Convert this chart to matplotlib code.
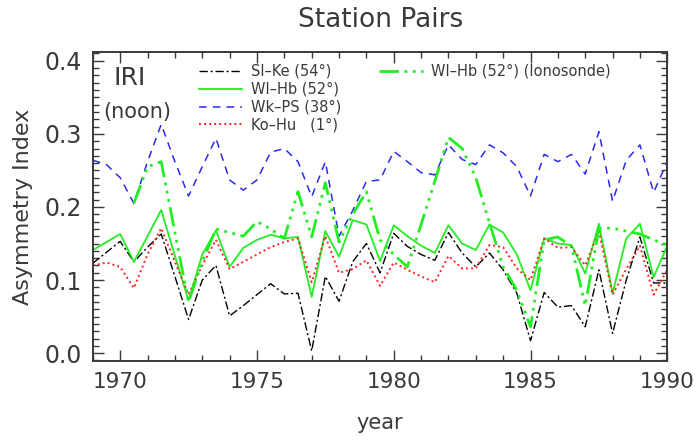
import numpy as np
import matplotlib
matplotlib.use("Agg")
import matplotlib.pyplot as plt
from matplotlib.ticker import MultipleLocator, FormatStrFormatter

# half-year samples 1969.0 ... 1990.0
years = np.arange(1969.0, 1990.01, 0.5)

sl_ke = [0.123, 0.138, 0.153, 0.125, 0.145, 0.163, 0.105, 0.046, 0.100, 0.120,
         0.051, 0.065, 0.080, 0.095, 0.081, 0.082, 0.003, 0.105, 0.071, 0.125,
         0.150, 0.110, 0.164, 0.146, 0.135, 0.127, 0.165, 0.137, 0.118, 0.137,
         0.114, 0.082, 0.017, 0.083, 0.063, 0.065, 0.036, 0.114, 0.027, 0.100,
         0.159, 0.096, 0.096]

wl_hb = [0.141, 0.152, 0.163, 0.125, 0.160, 0.196, 0.133, 0.072, 0.135, 0.168,
         0.118, 0.144, 0.155, 0.162, 0.157, 0.159, 0.077, 0.167, 0.132, 0.182,
         0.176, 0.126, 0.175, 0.160, 0.147, 0.137, 0.175, 0.150, 0.141, 0.176,
         0.165, 0.135, 0.086, 0.157, 0.150, 0.148, 0.109, 0.177, 0.082, 0.157,
         0.177, 0.104, 0.147]

wk_ps = [0.264, 0.258, 0.240, 0.205, 0.262, 0.313, 0.262, 0.215, 0.255, 0.294,
         0.237, 0.223, 0.237, 0.275, 0.280, 0.262, 0.214, 0.262, 0.160, 0.195,
         0.235, 0.237, 0.276, 0.262, 0.247, 0.244, 0.285, 0.265, 0.258, 0.285,
         0.274, 0.255, 0.215, 0.272, 0.262, 0.272, 0.245, 0.303, 0.208, 0.264,
         0.285, 0.220, 0.262]

ko_hu = [0.120, 0.124, 0.118, 0.089, 0.135, 0.171, 0.125, 0.080, 0.120, 0.155,
         0.115, 0.125, 0.135, 0.145, 0.152, 0.157, 0.097, 0.160, 0.110, 0.115,
         0.127, 0.092, 0.124, 0.114, 0.105, 0.097, 0.133, 0.116, 0.116, 0.148,
         0.145, 0.116, 0.100, 0.157, 0.144, 0.145, 0.120, 0.167, 0.080, 0.115,
         0.147, 0.080, 0.114]

# ionosonde series starts in 1970.5
wl_hb_iono = [np.nan, np.nan, np.nan, 0.205, 0.255, 0.262, 0.165, 0.070, 0.125, 0.170,
              0.165, 0.160, 0.180, 0.170, 0.157, 0.221, 0.159, 0.233, 0.152, 0.190,
              0.221, 0.155, 0.135, 0.118, 0.176, 0.235, 0.295, 0.280, 0.240, 0.178,
              0.118, 0.086, 0.036, 0.155, 0.159, 0.146, 0.065, 0.171, 0.171, 0.167,
              0.163, 0.155, 0.148]

grey = "#3a3a3a"
plt.rcParams["font.family"] = "DejaVu Sans"
plt.rcParams["text.color"] = grey

fig = plt.figure(figsize=(6.98, 4.41), dpi=100)
ax = fig.add_axes([0.133, 0.181, 0.823, 0.701])

l1, = ax.plot(years, sl_ke, color="black", lw=1.0, dashes=(6, 2, 1.5, 2), label="Sl\u2013Ke (54\u00b0)")
l2, = ax.plot(years, wl_hb, color="#22ee22", lw=1.3, label="Wl\u2013Hb (52\u00b0)")
l3, = ax.plot(years, wk_ps, color="#2a2aee", lw=1.1, dashes=(5, 4), label="Wk\u2013PS (38\u00b0)")
l4, = ax.plot(years, ko_hu, color="#ff2020", lw=1.4, dashes=(1, 1.6), label="Ko\u2013Hu   (1\u00b0)")
l5, = ax.plot(years, wl_hb_iono, color="#22ee22", lw=2.0, dashes=(7, 2, 1, 2, 1, 2, 1, 2),
              label="Wl\u2013Hb (52\u00b0) (Ionosonde)")

ax.set_xlim(1969, 1990)
ax.set_ylim(-0.011, 0.412)
ax.xaxis.set_major_locator(MultipleLocator(5))
ax.xaxis.set_minor_locator(MultipleLocator(1))
ax.yaxis.set_major_locator(MultipleLocator(0.1))
ax.yaxis.set_minor_locator(MultipleLocator(0.01))
ax.yaxis.set_major_formatter(FormatStrFormatter("%.1f"))
ax.tick_params(which="both", direction="in", top=True, right=True, colors=grey,
               labelcolor=grey, width=1.0)
ax.tick_params(which="major", length=8, pad=8)
ax.tick_params(which="minor", length=4)
ax.tick_params(axis="x", labelsize=15.5)
ax.tick_params(axis="y", labelsize=17)
for sp in ax.spines.values():
    sp.set_linewidth(1.4)
    sp.set_color(grey)

ax.set_xlabel("year", fontsize=15, color=grey, labelpad=15)
ax.set_ylabel("Asymmetry Index", fontsize=16, color=grey, labelpad=8)
fig.text(0.545, 0.955, "Station Pairs", ha="center", va="center", fontsize=19, color=grey)

ax.text(0.036, 0.916, "IRI", transform=ax.transAxes, fontsize=18, color=grey, va="center")
ax.text(0.019, 0.807, "(noon)", transform=ax.transAxes, fontsize=15, color=grey, va="center")

leg1 = ax.legend(handles=[l1, l2, l3, l4], loc="upper left", bbox_to_anchor=(0.184, 0.962),
                 frameon=False, fontsize=10.5, handlelength=3.0, labelspacing=0.2,
                 handletextpad=0.6, borderaxespad=0, borderpad=0)
ax.add_artist(leg1)
ax.legend(handles=[l5], loc="upper left", bbox_to_anchor=(0.498, 0.962),
          frameon=False, fontsize=10.5, handlelength=3.0, handletextpad=0.6,
          borderaxespad=0, borderpad=0)

fig.savefig("out.png", dpi=100)
